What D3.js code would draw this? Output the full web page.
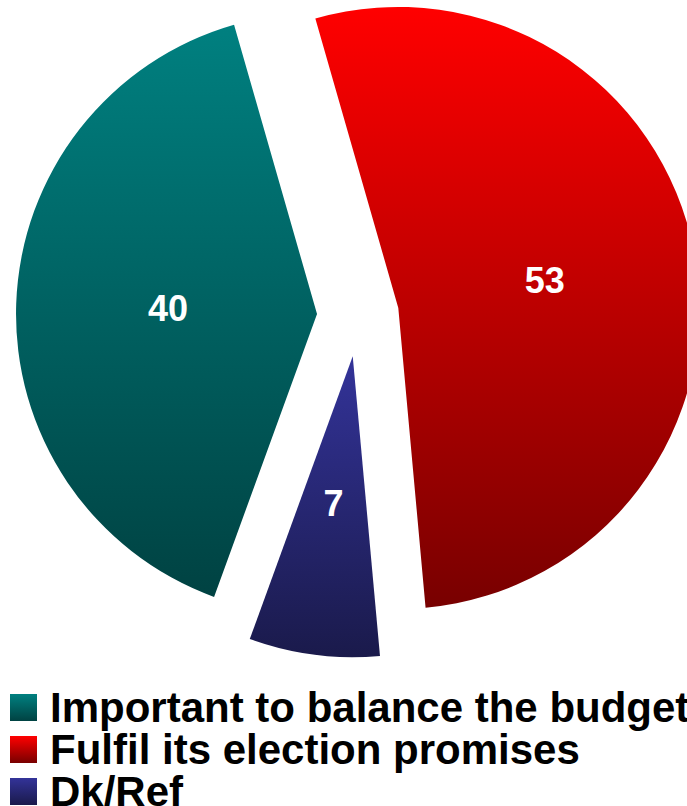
<!DOCTYPE html>
<html>
<head>
<meta charset="utf-8">
<script src="https://cdn.jsdelivr.net/npm/d3@7"></script>
<style>
  html, body { margin: 0; padding: 0; background: #fff; overflow: hidden; }
  svg { display: block; }
</style>
</head>
<body>
<svg id="chart" width="687" height="806"></svg>
<script>
const categories = ["Fulfil its election promises", "Dk/Ref", "Important to balance the budget"];
const values = [53, 7, 40];
const topColors = ["#ff0000", "#333399", "#008080"];
const bottomColors = ["#780000", "#1a1a4b", "#004242"];
const legendOrder = ["Important to balance the budget", "Fulfil its election promises", "Dk/Ref"];

const W = 687, H = 806;
const cx = 358, cy = 315.5, R = 301, explode = 41;
const startDeg = -16;

const svg = d3.select("#chart");
const defs = svg.append("defs");

categories.forEach((c, i) => {
  const g = defs.append("linearGradient")
    .attr("id", "grad" + i)
    .attr("x1", 0).attr("y1", 0).attr("x2", 0).attr("y2", 1);
  g.append("stop").attr("offset", "0%").attr("stop-color", topColors[i]);
  g.append("stop").attr("offset", "100%").attr("stop-color", bottomColors[i]);
});

const data = categories.map((c, i) => ({ cat: c, value: values[i], idx: i }));

const pie = d3.pie()
  .value(d => d.value)
  .sort(null)
  .startAngle(startDeg * Math.PI / 180)
  .endAngle(startDeg * Math.PI / 180 + 2 * Math.PI);

const arc = d3.arc().innerRadius(0).outerRadius(R);
const arcs = pie(data);

const root = svg.append("g").attr("transform", `translate(${cx},${cy})`);

const slices = root.selectAll("g.slice")
  .data(arcs)
  .enter().append("g")
  .attr("class", "slice")
  .attr("transform", d => {
    const mid = (d.startAngle + d.endAngle) / 2;
    return `translate(${explode * Math.sin(mid)},${-explode * Math.cos(mid)})`;
  });

slices.append("path")
  .attr("d", arc)
  .attr("fill", d => `url(#grad${d.data.idx})`);

const labelR = 149;
slices.append("text")
  .attr("x", d => labelR * Math.sin((d.startAngle + d.endAngle) / 2))
  .attr("y", d => -labelR * Math.cos((d.startAngle + d.endAngle) / 2))
  .attr("text-anchor", "middle")
  .attr("dominant-baseline", "central")
  .attr("font-family", "'Liberation Sans', Arial, sans-serif")
  .attr("font-weight", "bold")
  .attr("font-size", 36)
  .attr("fill", "#ffffff")
  .text(d => d.data.value);

// Legend
const legend = svg.append("g");
const rowY = d3.scalePoint().domain(legendOrder).range([722, 806]);
legendOrder.forEach(name => {
  const i = categories.indexOf(name);
  const y = rowY(name);
  legend.append("rect")
    .attr("x", 10).attr("y", y - 28)
    .attr("width", 27).attr("height", 27)
    .attr("fill", `url(#grad${i})`);
  legend.append("text")
    .attr("x", 50).attr("y", y)
    .attr("font-family", "'Liberation Sans', Arial, sans-serif")
    .attr("font-weight", "bold")
    .attr("font-size", 42)
    .attr("fill", "#000")
    .text(name);
});
</script>
</body>
</html>
